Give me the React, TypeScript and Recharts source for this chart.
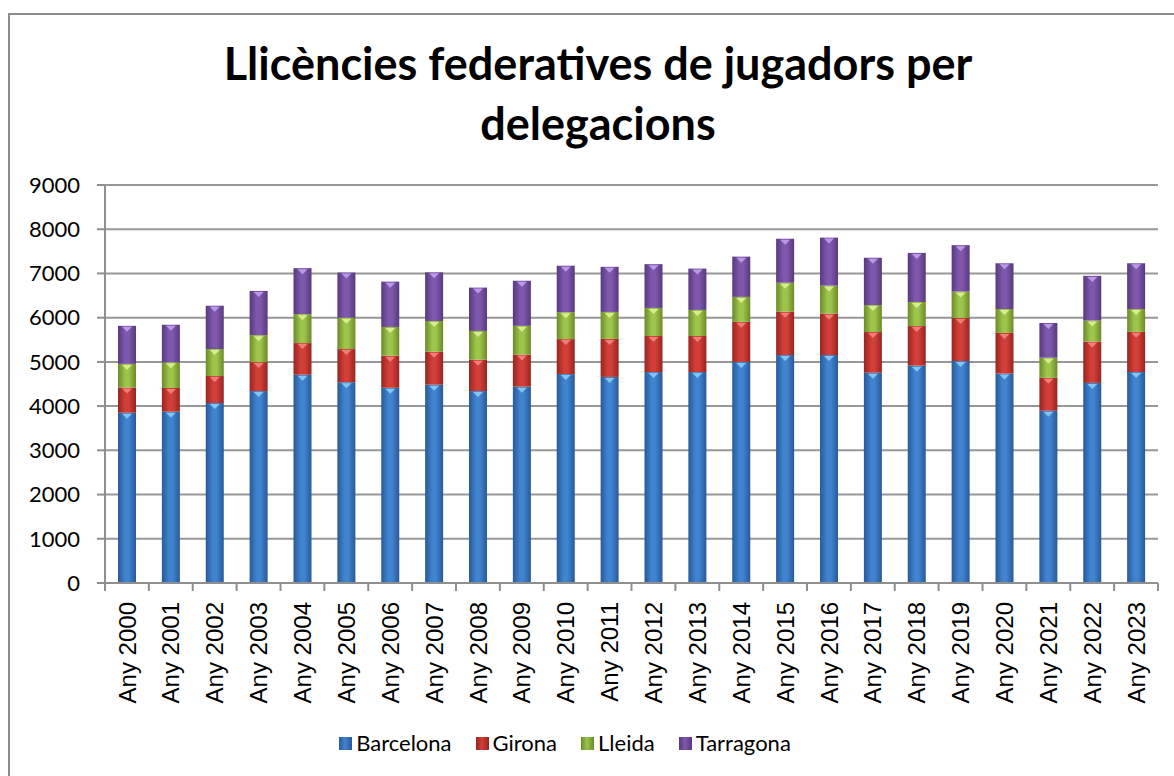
import React from 'react';
import { BarChart, Bar, XAxis, YAxis, CartesianGrid } from 'recharts';

const years = [
  'Any 2000', 'Any 2001', 'Any 2002', 'Any 2003', 'Any 2004', 'Any 2005',
  'Any 2006', 'Any 2007', 'Any 2008', 'Any 2009', 'Any 2010', 'Any 2011',
  'Any 2012', 'Any 2013', 'Any 2014', 'Any 2015', 'Any 2016', 'Any 2017',
  'Any 2018', 'Any 2019', 'Any 2020', 'Any 2021', 'Any 2022', 'Any 2023',
];

const barcelona = [
  3850, 3875, 4070, 4340, 4710, 4540, 4415, 4485, 4340, 4440, 4725, 4660,
  4770, 4770, 5000, 5155, 5155, 4755, 4915, 5020, 4735, 3895, 4525, 4770,
];
const girona = [
  570, 535, 610, 655, 715, 750, 725, 745, 710, 725, 790, 860,
  815, 815, 905, 980, 935, 920, 895, 975, 920, 745, 935, 910,
];
const lleida = [
  535, 580, 610, 610, 655, 710, 650, 695, 650, 650, 610, 610,
  635, 590, 565, 655, 635, 610, 545, 595, 540, 455, 475, 515,
];
const tarragona = [
  860, 850, 980, 1000, 1040, 1020, 1025, 1100, 980, 1020, 1050, 1020,
  990, 935, 910, 995, 1085, 1070, 1110, 1050, 1035, 785, 1010, 1035,
];

const yTicks = [0, 1000, 2000, 3000, 4000, 5000, 6000, 7000, 8000, 9000];
const seriesNames = ['Barcelona', 'Girona', 'Lleida', 'Tarragona'];

const data = years.map((year, i) => ({
  year,
  Barcelona: barcelona[i],
  Girona: girona[i],
  Lleida: lleida[i],
  Tarragona: tarragona[i],
}));

// colours for the glossy 2007-style bars
const palette: Record<string, { edge: string; mid: string; tip: string }> = {
  Barcelona: { edge: '#28599b', mid: '#4084cf', tip: '#8fd0f7' },
  Girona: { edge: '#99241f', mid: '#d23f39', tip: '#f58a84' },
  Lleida: { edge: '#6c8a28', mid: '#9dc54b', tip: '#e2f59a' },
  Tarragona: { edge: '#573980', mid: '#7f58ac', tip: '#c6a4f0' },
};

const gradId = (name: string) => `grad-${name}`;

const GlossyBar = (props: any) => {
  const { x, y, width, height, fill, name } = props;
  if (!height || height <= 0) return null;
  const tip = palette[name]?.tip ?? '#fff';
  const cx = x + width / 2;
  const tw = Math.min(width * 0.28, 5);
  return (
    <g>
      <rect x={x} y={y} width={width} height={height} fill={fill} />
      <polygon
        points={`${cx - tw},${y + 1} ${cx + tw},${y + 1} ${cx},${y + 6}`}
        fill={tip}
        opacity={0.85}
      />
    </g>
  );
};

const YearTick = (props: any) => {
  const { x, y, payload, index } = props;
  const half = payload?.offset ?? 0;
  const last = index === years.length - 1;
  return (
    <g>
      <line x1={x - half} x2={x - half} y1={y} y2={y + 8} stroke="#8f8f8f" strokeWidth={2} />
      {last && <line x1={x + half} x2={x + half} y1={y} y2={y + 8} stroke="#8f8f8f" strokeWidth={2} />}
      <text
        x={x}
        y={y + 19}
        dy="0.36em"
        transform={`rotate(-90, ${x}, ${y + 19})`}
        textAnchor="end"
        fontFamily="'Liberation Sans', Arial, sans-serif"
        fontSize={24}
        fill="#000"
      >
        {payload.value}
      </text>
    </g>
  );
};

export default function App() {
  return (
    <div style={{ position: 'absolute', left: 0, top: 0, width: 1174, height: 776, overflow: 'hidden', background: '#fff' }}>
      {/* chart frame */}
      <div
        style={{
          position: 'absolute',
          left: 8,
          top: 13,
          width: 1200,
          height: 800,
          border: '2px solid #8c8c8c',
          boxSizing: 'border-box',
        }}
      />

      {/* title */}
      <div
        style={{
          position: 'absolute',
          left: 0,
          top: 33,
          width: 1196,
          textAlign: 'center',
          fontFamily: 'Lato, sans-serif',
          fontWeight: 700,
          fontSize: 45,
          lineHeight: '60px',
          color: '#000',
        }}
      >
        Llicències federatives de jugadors per
        <br />
        delegacions
      </div>

      <div style={{ position: 'absolute', left: 0, top: 0 }}>
        <BarChart
          width={1174}
          height={776}
          data={data}
          margin={{ top: 185, right: 16, left: 0, bottom: 63 }}
        >
          <defs>
            {seriesNames.map((name) => (
              <linearGradient key={name} id={gradId(name)} x1="0" y1="0" x2="1" y2="0">
                <stop offset="0%" stopColor={palette[name].edge} />
                <stop offset="40%" stopColor={palette[name].mid} />
                <stop offset="60%" stopColor={palette[name].mid} />
                <stop offset="100%" stopColor={palette[name].edge} />
              </linearGradient>
            ))}
          </defs>
          <CartesianGrid vertical={false} stroke="#979797" strokeWidth={2} />
          <XAxis
            dataKey="year"
            interval={0}
            tickSize={0}
            tickMargin={0}
            tickLine={false}
            height={130}
            axisLine={{ stroke: '#8f8f8f', strokeWidth: 2 }}
            tick={<YearTick />}
          />
          <YAxis
            width={105}
            domain={[0, 9000]}
            ticks={yTicks}
            interval={0}
            tickSize={8}
            tickMargin={17}
            axisLine={{ stroke: '#8f8f8f', strokeWidth: 2 }}
            tickLine={{ stroke: '#8f8f8f', strokeWidth: 2 }}
            tick={{ fill: '#000', fontFamily: 'Lato, sans-serif', fontSize: 22 }}
          />
          {seriesNames.map((name) => (
            <Bar
              key={name}
              dataKey={name}
              name={name}
              stackId="a"
              barSize={18}
              fill={`url(#${gradId(name)})`}
              shape={(p: any) => <GlossyBar {...p} name={name} />}
              isAnimationActive={false}
            />
          ))}
        </BarChart>
      </div>

      {/* legend */}
      <div
        style={{
          position: 'absolute',
          left: -22,
          top: 729,
          width: 1174,
          display: 'flex',
          justifyContent: 'center',
          fontFamily: 'Lato, sans-serif',
          fontSize: 22,
          lineHeight: '28px',
        }}
      >
        {seriesNames.map((name, i) => (
          <div
            key={name}
            style={{ display: 'flex', alignItems: 'center', marginRight: i < seriesNames.length - 1 ? 24 : 0 }}
          >
            <span
              style={{
                display: 'inline-block',
                width: 13,
                height: 13,
                marginRight: 4,
                background: `linear-gradient(to right, ${palette[name].edge}, ${palette[name].mid} 45%, ${palette[name].edge})`,
              }}
            />
            <span>{name}</span>
          </div>
        ))}
      </div>
    </div>
  );
}
